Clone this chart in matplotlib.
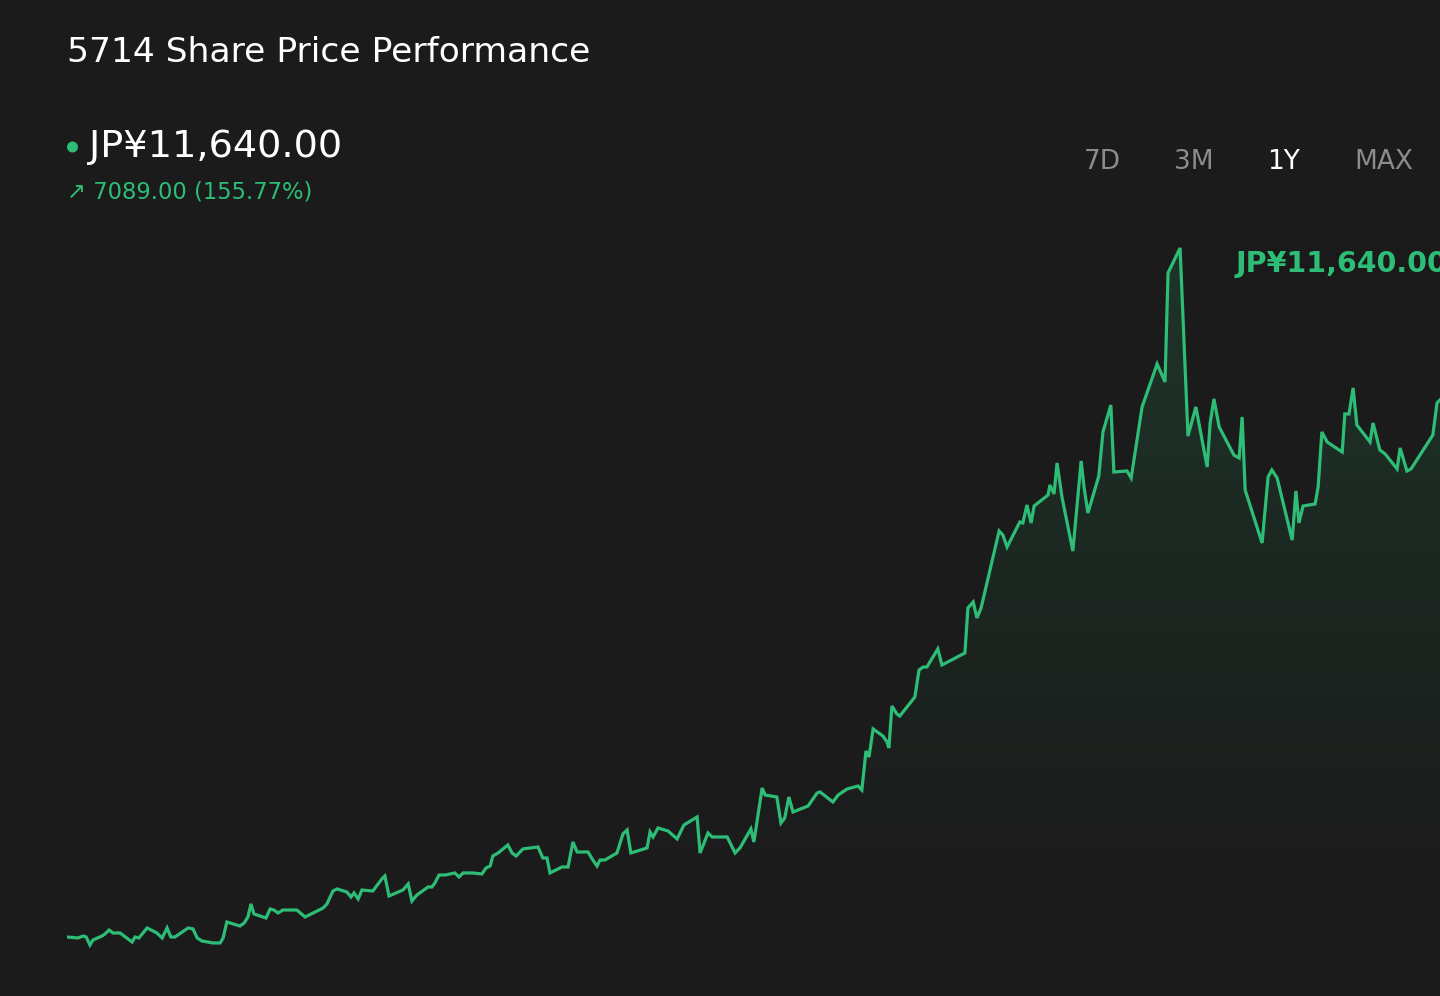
import numpy as np
import matplotlib
matplotlib.use("Agg")
import matplotlib.pyplot as plt
from matplotlib.patches import Polygon, Ellipse

# ---- data ----
days = [0.0, 2.9, 4.3, 5.1, 6.1, 6.9, 9.3, 10.1, 11.2, 12.2, 14.1, 17.3, 18.1, 19.1, 21.3, 23.9,
        25.3, 26.6, 27.6, 28.7, 32.2, 33.5, 34.6, 35.9, 38.8, 40.7, 41.5, 42.5, 46.0, 47.1, 48.1,
        48.9, 49.7, 52.9, 54.0, 55.0, 56.1, 57.4, 61.1, 63.3, 68.1, 69.1, 70.7, 71.8, 74.4, 75.5,
        76.3, 77.4, 78.4, 81.3, 83.7, 84.5, 85.6, 89.3, 90.7, 91.7, 93.0, 96.0, 97.0, 97.8, 98.9,
        100.5, 103.1, 104.2, 105.3, 107.9, 110.3, 111.4, 112.5, 113.2, 114.6, 117.2, 118.3, 119.4,
        121.2, 125.2, 126.5, 127.6, 128.4, 131.6, 133.2, 134.5, 135.6, 138.5, 139.8, 140.9, 141.7,
        143.0, 146.2, 147.8, 148.9, 149.9, 154.2, 155.0, 155.8, 157.1, 159.8, 162.2, 164.0, 167.5,
        168.3, 170.4, 171.5, 175.5, 177.6, 178.9, 181.8, 182.6, 184.8, 185.6, 188.7, 189.8, 190.8,
        191.9, 193.0, 197.0, 199.4, 200.2, 203.6, 205.0, 207.4, 210.3, 211.3, 212.4, 213.2, 214.3,
        216.9, 218.0, 218.5, 219.3, 220.6, 221.4, 225.4, 226.5, 227.6, 228.6, 231.5, 232.6, 238.7,
        239.5, 240.9, 241.9, 243.0, 247.8, 248.8, 249.9, 253.3, 254.1, 255.2, 256.3, 257.1, 259.5,
        260.8, 261.3, 262.4, 263.2, 264.5, 267.4, 269.6, 270.4, 271.4, 274.3, 275.4, 277.5, 278.3,
        281.8, 282.9, 285.8, 289.8, 291.9, 292.7, 295.9, 298.0, 300.1, 303.1, 303.9, 304.9, 306.3,
        310.2, 311.6, 312.4, 313.2, 317.7, 319.3, 320.3, 321.7, 325.7, 326.7, 327.5, 328.6, 331.8,
        332.6, 333.6, 335.0, 339.0, 339.7, 340.8, 341.9, 342.9, 346.4, 347.2, 349.0, 350.4, 353.6,
        354.4, 356.2, 357.3, 363.1, 364.2, 365.0]
prices = [4551, 4538, 4564, 4551, 4445, 4511, 4564, 4591, 4643, 4604, 4604, 4485, 4551, 4538, 4670, 4604,
          4538, 4670, 4551, 4551, 4670, 4657, 4538, 4498, 4472, 4472, 4538, 4749, 4696, 4736, 4815,
          4987, 4855, 4802, 4921, 4907, 4868, 4907, 4907, 4815, 4934, 4987, 5158, 5185, 5145, 5079,
          5132, 5053, 5171, 5158, 5317, 5356, 5092, 5171, 5251, 5026, 5105, 5211, 5211, 5264, 5369,
          5369, 5396, 5343, 5396, 5396, 5383, 5462, 5488, 5620, 5660, 5765, 5660, 5620,
          5713, 5739, 5594, 5594, 5396, 5475, 5475, 5805, 5673, 5673, 5567, 5488, 5567,
          5567, 5660, 5911, 5963, 5660, 5726, 5937, 5871, 5990, 5950, 5845, 6029, 6135,
          5660, 5924, 5871, 5871, 5660, 5726, 5977, 5805, 6518, 6425, 6399, 6056, 6122,
          6399, 6201, 6280, 6452, 6465, 6333, 6425, 6505, 6544, 6491, 7006, 6927, 7297,
          7204, 7125, 7046, 7600, 7495, 7468, 7719, 8075, 8115, 8115, 8353, 8141, 8300,
          8894, 8973, 8762, 8894, 9910, 9857, 9699, 10029, 10016, 10253, 10016, 10240, 10333,
          10385, 10517, 10399, 10808, 10359, 9646, 10834, 10478, 10148, 10636, 11217, 11573, 10689,
          10702, 10610, 11547, 12115, 11877, 13316, 13646, 11164, 11547, 10755, 11336, 11653, 11283,
          10913, 10874, 11415, 10451, 9752, 10623, 10715, 10610, 9791, 10438, 10016, 10240, 10267,
          10491, 11217, 11085, 10953, 11455, 11455, 11798, 11309, 11085, 11336, 10979, 10927, 10729,
          11006, 10702, 10729, 11177, 11600, 11640]

title = "5714 Share Price Performance"
last_price = "JP¥11,640.00"
change_text = "↗ 7089.00 (155.77%)"
ranges = ["7D", "3M", "1Y", "MAX"]
active_range = "1Y"

# ---- style ----
BG = "#1b1b1b"
GREEN = "#2ebd76"
W, H = 1440, 996

fig = plt.figure(figsize=(W / 100, H / 100), dpi=100, facecolor=BG)

def fx(px):
    return px / W

def fy(py):
    return 1 - py / H

ax_left, ax_top, ax_bot = 67, 115, 996
ax = fig.add_axes([fx(ax_left), fy(ax_bot), 1 - fx(ax_left), (ax_bot - ax_top) / H])
ax.set_facecolor(BG)
ax.set_xlim(0, 365)
ax.set_ylim(3772, 15401)
ax.axis("off")

x = np.array(days)
y = np.array(prices)

# gradient fill under the line
ymin, ymax = ax.get_ylim()
grad_top, grad_bot = 13700, 5300
n = 256
yy = np.linspace(ymin, ymax, n)
alpha = np.clip((yy - grad_bot) / (grad_top - grad_bot), 0, 1) * 0.16
rgba = np.zeros((n, 1, 4))
rgba[..., 0] = 0x2e / 255
rgba[..., 1] = 0xbd / 255
rgba[..., 2] = 0x76 / 255
rgba[..., 3] = alpha[:, None]
im = ax.imshow(rgba, extent=[0, 365, ymin, ymax], origin="lower", aspect="auto", zorder=1)
verts = np.vstack([np.column_stack([x, y]), [[x[-1], ymin], [x[0], ymin]]])
poly = Polygon(verts, closed=True, facecolor="none", edgecolor="none")
ax.add_patch(poly)
im.set_clip_path(poly)

ax.plot(x, y, color=GREEN, lw=2.3, solid_joinstyle="miter", zorder=3)

# texts
fig.text(fx(67), fy(53), title, color="white", fontsize=24.8, va="center", ha="left")
fig.add_artist(Ellipse((fx(72.5), fy(147)), 11 / W, 11 / H, transform=fig.transFigure,
                       facecolor=GREEN, edgecolor="none"))
fig.text(fx(89), fy(147), last_price, color="white", fontsize=27.5, va="center", ha="left")
fig.text(fx(67), fy(192), change_text, color=GREEN, fontsize=16.3, va="center", ha="left")

centers = [1102, 1194, 1284, 1384]
for lab, cx in zip(ranges, centers):
    col = "white" if lab == active_range else "#8c8c8c"
    fig.text(fx(cx), fy(162), lab, color=col, fontsize=19, va="center", ha="center")

fig.text(fx(1236), fy(264), last_price, color=GREEN, fontsize=20.5, fontweight="bold",
         va="center", ha="left",
         bbox=dict(boxstyle="square,pad=0.25", facecolor="#1a1a1a", edgecolor="none"))

fig.savefig("out.png", dpi=100, facecolor=BG)
